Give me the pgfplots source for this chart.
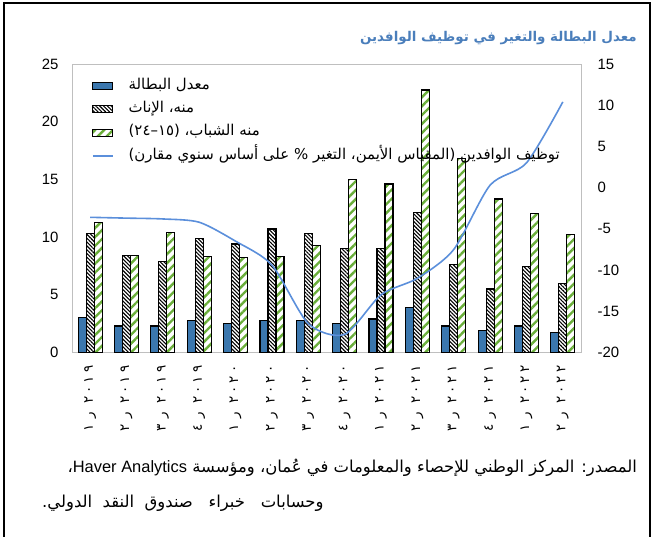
\documentclass[border=0pt]{standalone}
\usepackage{fontspec}
\setmainfont{Liberation Sans}
\newfontfamily\arabicfont[Script=Arabic]{DejaVu Sans}
\TeXXeTstate=1
\usepackage{pgfplots}
\pgfplotsset{compat=1.18}
\usetikzlibrary{patterns.meta}
\definecolor{barblue}{HTML}{3B77AE}
\definecolor{stripegreen}{HTML}{6AAE3A}
\definecolor{linebl}{HTML}{5B8FDB}
\definecolor{titleblue}{HTML}{4A7EBB}
\definecolor{framegray}{HTML}{BFBFBF}
\newcommand{\yr}[4]{\hbox{#1}\kern3bp\hbox{#2}\kern3bp\hbox{#3}\kern3bp\hbox{#4}}
\newcommand{\ql}[2]{\hbox{#1}\kern6bp\hbox{ر}\kern8bp#2}
\pgfplotsset{
  barlegend/.style={legend image code/.code={\draw[##1, line width=1bp] (0bp,-3.5bp) rectangle (20bp,3.5bp);}},
  linelegend/.style={legend image code/.code={\draw[##1] (0bp,0bp) -- (20bp,0bp);}},
  bluebar/.style={fill=barblue, draw=black, line width=1.2bp},
  hatchbar/.style={draw=black, line width=1.2bp, pattern={Lines[angle=-45, distance=2.7bp, line width=1.1bp]}, pattern color=black},
  greenbar/.style={draw=black, line width=1.2bp, pattern={Lines[angle=45, distance=6.3bp, line width=2.4bp]}, pattern color=stripegreen},
}
\pgfplotstableread{
x blue female youth line
1 3.0 10.3 11.25 -3.6
2 2.3 8.4 8.4 -3.7
3 2.3 7.9 10.4 -3.8
4 2.8 9.85 8.35 -4.2
5 2.5 9.4 8.2 -6.5
6 2.8 10.7 8.35 -9.4
7 2.8 10.3 9.3 -16.5
8 2.5 9.0 15.0 -17.8
9 2.9 9.0 14.6 -13.0
10 3.9 12.1 22.75 -11.0
11 2.3 7.6 16.8 -7.5
12 1.9 5.5 13.3 0.3
13 2.3 7.45 12.05 3.0
14 1.7 6.0 10.25 10.4
}\datatable
\begin{document}
\begin{tikzpicture}[x=1bp,y=1bp]
\path[use as bounding box] (0,0) rectangle (655,537);
\draw[line width=1.3bp] (4,0) -- (4,534) -- (650,534) -- (650,0);
\node[anchor=east, inner sep=0pt, text=titleblue, font=\arabicfont\bfseries\fontsize{13.5}{16}\selectfont] at (637,499) {\beginR معدل البطالة والتغير في توظيف الوافدين\endR};
\node[anchor=east, inner sep=0pt, font=\arabicfont\fontsize{16.5}{19}\selectfont] at (637,69) {\beginR المصدر: المركز الوطني للإحصاء والمعلومات في عُمان، ومؤسسة \beginL{\normalfont Haver Analytics}\endL،\endR};
\node[anchor=west, inner sep=0pt, font=\arabicfont\fontsize{16.5}{19}\selectfont] at (42,34) {\beginR وحسابات\ \ \ خبراء\ \ \ صندوق\ \ النقد\ \ الدولي.\endR};
\begin{axis}[
  at={(72bp,184.5bp)}, anchor=south west, scale only axis,
  width=509bp, height=288.5bp,
  xmin=0.5, xmax=14.5, ymin=0, ymax=25,
  ytick={0,5,10,15,20,25},
  xtick={1,...,14},
  xticklabels={\ql{١}{\yr٢٠١٩},\ql{٢}{\yr٢٠١٩},\ql{٣}{\yr٢٠١٩},\ql{٤}{\yr٢٠١٩},\ql{١}{\yr٢٠٢٠},\ql{٢}{\yr٢٠٢٠},\ql{٣}{\yr٢٠٢٠},\ql{٤}{\yr٢٠٢٠},\ql{١}{\yr٢٠٢١},\ql{٢}{\yr٢٠٢١},\ql{٣}{\yr٢٠٢١},\ql{٤}{\yr٢٠٢١},\ql{١}{\yr٢٠٢٢},\ql{٢}{\yr٢٠٢٢}},
  ybar=0pt, bar width=8bp,
  axis line style={draw=framegray, line width=0.8bp},
  major tick length=0pt,
  tick label style={font=\fontsize{15}{17}\selectfont},
  yticklabel style={xshift=-10bp},
  xticklabel style={yshift=-13bp, rotate=90, anchor=east, inner sep=0pt, font=\arabicfont\fontsize{13.5}{15}\selectfont},
  /pgf/number format/assume math mode=true,
]
\addplot[bluebar] table[x=x, y=blue] {\datatable};
\addplot[hatchbar] table[x=x, y=female] {\datatable};
\addplot[greenbar] table[x=x, y=youth] {\datatable};
\end{axis}
\begin{axis}[
  at={(72bp,184.5bp)}, anchor=south west, scale only axis,
  width=509bp, height=288.5bp,
  xmin=0.5, xmax=14.5, ymin=-20, ymax=15,
  ytick={-20,-15,...,15},
  axis x line=none, axis y line*=right,
  axis line style={draw=none},
  major tick length=0pt,
  tick label style={font=\fontsize{15}{17}\selectfont},
  yticklabel style={xshift=13bp},
  /pgf/number format/assume math mode=true,
  legend style={at={(rel axis cs:0.039,0.955)}, anchor=north west, draw=none, fill=none, inner sep=0pt,
    font=\arabicfont\fontsize{15}{17}\selectfont, row sep=5.3bp,
    nodes={inner sep=1bp, text height=11bp, text depth=5bp},
    /tikz/every odd column/.append style={column sep=14bp}},
  legend cell align=left,
]
\addlegendimage{barlegend, bluebar}
\addlegendentry{\beginR معدل البطالة\endR}
\addlegendimage{barlegend, hatchbar}
\addlegendentry{\beginR منه، الإناث\endR}
\addlegendimage{barlegend, greenbar}
\addlegendentry{\beginR منه الشباب، (١٥–٢٤)\endR}
\addplot[linebl, line width=1.6bp, smooth, tension=0.45, mark=none, linelegend] table[x=x, y=line] {\datatable};
\addlegendentry{\beginR توظيف الوافدين (المقياس الأيمن، التغير \% على أساس سنوي مقارن)\endR}
\end{axis}
\end{tikzpicture}
\end{document}
